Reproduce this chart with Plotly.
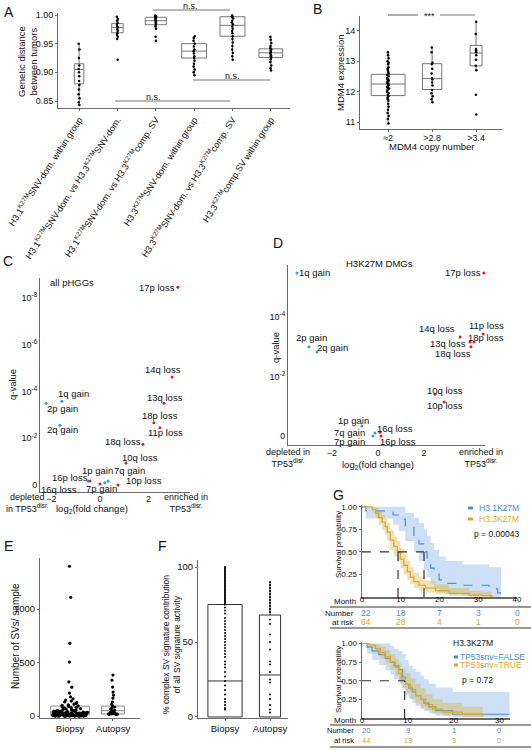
import math
import plotly.graph_objects as go

FONT = "Liberation Sans, Arial, Helvetica, sans-serif"
W, H = 531, 750

# ======================= DATA =======================
# ---- Panel A: genetic distance between tumours
A_labels = [
    "H3.1<sup>K27M</sup>SNV-dom. within group",
    "H3.1<sup>K27M</sup>SNV-dom. vs H3.3<sup>K27M</sup>SNV-dom.",
    "H3.1<sup>K27M</sup>SNV-dom. vs H3.3<sup>K27M</sup>comp. SV",
    "H3.3<sup>K27M</sup>SNV-dom. within group",
    "H3.3<sup>K27M</sup>SNV-dom. vs H3.3<sup>K27M</sup>comp. SV",
    "H3.3<sup>K27M</sup>comp.SV within group",
]
A_q1 = [0.880, 0.969, 0.983, 0.925, 0.963, 0.926]
A_med = [0.905, 0.978, 0.990, 0.937, 0.982, 0.934]
A_q3 = [0.915, 0.985, 0.996, 0.950, 0.997, 0.941]
A_lo = [0.843, 0.958, 0.975, 0.895, 0.922, 0.903]
A_hi = [0.950, 0.997, 0.998, 0.963, 0.999, 0.962]
A_pts = [
    [0.950, 0.940, 0.925, 0.912, 0.906, 0.900, 0.893, 0.885, 0.878, 0.870, 0.862, 0.855, 0.848, 0.843],
    [0.997, 0.993, 0.990, 0.986, 0.983, 0.980, 0.978, 0.975, 0.972, 0.968, 0.965, 0.962, 0.958, 0.922],
    [0.999, 0.998, 0.997, 0.996, 0.995, 0.993, 0.991, 0.989, 0.987, 0.985, 0.983, 0.980, 0.976, 0.962, 0.955],
    [0.963, 0.960, 0.955, 0.950, 0.945, 0.940, 0.937, 0.933, 0.928, 0.925, 0.920, 0.915, 0.910, 0.905, 0.900, 0.895],
    [0.999, 0.998, 0.996, 0.994, 0.990, 0.987, 0.984, 0.980, 0.976, 0.972, 0.968, 0.963, 0.958, 0.952, 0.946,
     0.940, 0.934, 0.928, 0.922],
    [0.962, 0.957, 0.951, 0.946, 0.942, 0.940, 0.938, 0.936, 0.934, 0.932, 0.930, 0.928, 0.926, 0.923, 0.918,
     0.912, 0.907, 0.903],
]

# ---- Panel B: MDM4 expression by copy number
B_labels = ["≈2", ">2.8", ">3.4"]
B_q1 = [11.87, 12.07, 12.85]
B_med = [12.25, 12.43, 13.27]
B_q3 = [12.57, 12.92, 13.52]
B_lo = [10.95, 11.65, 12.70]
B_hi = [13.30, 13.45, 14.30]
B_pts = [
    [13.3, 13.2, 13.1, 13.0, 12.95, 12.9, 12.8, 12.75, 12.7, 12.65, 12.6, 12.55, 12.5, 12.45, 12.42, 12.4,
     12.37, 12.35, 12.32, 12.3, 12.28, 12.25, 12.22, 12.2, 12.17, 12.15, 12.12, 12.1, 12.05, 12.0, 11.95,
     11.9, 11.85, 11.8, 11.75, 11.7, 11.6, 11.5, 11.4, 11.3, 11.2, 11.1, 10.95],
    [13.45, 13.3, 12.95, 12.9, 12.75, 12.6, 12.45, 12.4, 12.3, 12.2, 12.05, 11.95, 11.85, 11.75, 11.65],
    [14.3, 13.9, 13.4, 13.35, 13.3, 13.2, 13.05, 12.85, 12.7, 11.9, 11.25],
]

# ---- Panel C: all pHGGs volcano
C_names = ["17p loss", "14q loss", "13q loss", "18p loss", "11p loss", "18q loss", "10q loss",
           "1q gain", "2p gain", "2q gain", "1p gain", "7q gain", "16p loss", "10p loss", "16q loss", "7p gain"]
C_fc = [3.21, 2.97, 2.64, 2.22, 2.47, 1.77, 1.07, -1.57, -2.22, -1.65, -0.49, 0.33, -0.41, 0.74, 0.0, 0.2]
C_q = [3.5e-9, 2.4e-5, 3.2e-4, 2.2e-3, 3.6e-3, 1.8e-2, 0.115, 2.6e-4, 3.2e-4, 2.8e-3,
       0.68, 0.68, 0.68, 1.0, 0.91, 0.81]

# ---- Panel D: H3K27M DMGs volcano
D_names = ["1q gain", "17p loss", "2p gain", "2q gain", "14q loss", "11p loss", "18p loss", "13q loss",
           "18q loss", "10q loss", "10p loss", "1p gain", "7q gain", "7p gain", "16q loss", "16p loss"]
D_fc = [-3.52, 4.6, -3.0, -2.65, 3.57, 4.57, 4.17, 4.0, 4.04, 2.48, 2.87, -0.7, -0.13, -0.22, 0.09, 0.13]
D_q = [3.3e-6, 3.3e-6, 1.0e-3, 1.5e-3, 4.7e-4, 3.7e-4, 6.9e-4, 6.9e-4, 1.0e-3, 0.039, 0.072,
       0.46, 0.79, 1.0, 0.74, 1.0]

# ---- Panel E: number of SVs per sample
E_labels = ["Biopsy", "Autopsy"]
E_q1 = [10, 20]
E_med = [37, 50]
E_q3 = [93, 93]
E_biopsy = [1400, 1110, 680, 505, 320, 270, 215, 180, 160, 150, 140, 132, 125, 118, 112, 106, 100, 95, 90,
            86, 82, 78, 74, 70, 66, 63, 60, 57, 54, 51, 48, 46, 44, 42, 40, 38, 36, 34, 32, 30, 29, 28, 26,
            25, 24, 22, 21, 20, 19, 18, 17, 16, 15, 14, 13, 12, 12, 11, 10, 10, 9, 9, 8, 8, 7, 7, 6, 6, 6,
            5, 5, 5, 4, 4, 4, 3, 3, 3, 2, 2, 2, 1, 1, 1, 0, 0, 0, 45, 41, 35, 31, 27, 23, 19, 16, 14, 11,
            9, 7, 6, 5, 4, 3, 2, 1, 0, 0, 52, 47, 39, 33, 28, 22, 18, 13, 8, 4]
E_autopsy = [383, 336, 271, 224, 196, 168, 131, 110, 95, 85, 75, 65, 55, 48, 40, 34, 30, 27, 25, 23, 21, 20,
             18, 16, 14]

# ---- Panel F: % complex SV signature contribution
F_labels = ["Biopsy", "Autopsy"]
F_q1 = [0, 0]
F_med = [24, 28]
F_q3 = [75, 68]
F_hi = [100, 90]
F_biopsy = [100, 99, 98, 97, 96, 95, 94, 93, 92, 91, 90, 89, 88, 87, 86, 85, 84, 83, 82, 81, 80, 79, 78,
            77, 76, 75, 73, 71, 69, 66, 64, 62, 60, 58, 56, 54, 52, 50, 48, 46, 44, 42, 40, 37, 35, 33,
            30, 27, 24, 21, 18, 15, 12, 10, 8, 6, 5]
F_autopsy = [90, 88, 86, 84, 82, 80, 78, 76, 74, 72, 70, 65, 62, 55, 50, 45, 37, 35, 30, 25, 23, 15, 12, 8, 5, 3]

# ---- Panel G (top): H3.1K27M vs H3.3K27M survival
G1_blue_t = [0, 1, 8, 9.5, 11.2, 13.4, 14.7, 16, 16.8, 17.7, 18.6, 19.9, 21.6, 25.9, 32.8, 35, 35.9]
G1_blue_s = [1.0, 0.955, 0.909, 0.864, 0.773, 0.682, 0.59, 0.5, 0.41, 0.32, 0.25, 0.19, 0.15, 0.13, 0.09, 0.045, 0.0]
G1_blue_hi = [1.0, 1.0, 1.0, 1.0, 0.93, 0.88, 0.82, 0.75, 0.68, 0.6, 0.52, 0.45, 0.4, 0.36, 0.33, 0.33, 0.33]
G1_blue_lo = [1.0, 0.87, 0.8, 0.73, 0.62, 0.5, 0.4, 0.3, 0.22, 0.15, 0.09, 0.05, 0.03, 0.02, 0.0, 0.0, 0.0]
G1_yel_t = [0, 2.6, 3.5, 4.3, 5.2, 6.0, 6.5, 7.3, 8.2, 9.1, 9.9, 10.8, 11.7, 12.5, 13.4, 14.7, 16.4, 19, 22.5,
            27.6, 31, 33.5]
G1_yel_s = [1.0, 0.97, 0.93, 0.88, 0.83, 0.78, 0.72, 0.63, 0.56, 0.5, 0.42, 0.35, 0.28, 0.22, 0.17, 0.13, 0.1,
            0.07, 0.04, 0.02, 0.015, 0.0]
G1_yel_hi = [1.0, 1.0, 0.99, 0.95, 0.91, 0.87, 0.82, 0.74, 0.67, 0.62, 0.54, 0.47, 0.4, 0.33, 0.27, 0.22, 0.18,
             0.14, 0.1, 0.07, 0.06, 0.06]
G1_yel_lo = [1.0, 0.93, 0.87, 0.8, 0.74, 0.69, 0.62, 0.52, 0.45, 0.39, 0.32, 0.25, 0.19, 0.14, 0.1, 0.07, 0.05,
             0.03, 0.01, 0.0, 0.0, 0.0]
G1_medians = [16, 9.3]
G1_risk_t = [0, 10, 20, 30, 40]
G1_risk_blue = [22, 18, 7, 3, 0]
G1_risk_yel = [64, 28, 4, 1, 0]

# ---- Panel G (bottom): H3.3K27M, TP53 snv FALSE vs TRUE
G2_blue_t = [0, 1.1, 2.2, 3.7, 5.1, 6.2, 7.0, 8.0, 8.8, 9.5, 10.2, 11.0, 11.7, 12.8, 13.5, 14.6, 16.1, 19.8, 32.2]
G2_blue_s = [1.0, 0.95, 0.9, 0.85, 0.8, 0.75, 0.7, 0.65, 0.55, 0.45, 0.4, 0.35, 0.3, 0.25, 0.2, 0.15, 0.1, 0.05, 0.05]
G2_blue_hi = [1.0, 1.0, 1.0, 1.0, 1.0, 0.97, 0.93, 0.9, 0.86, 0.78, 0.7, 0.66, 0.62, 0.57, 0.52, 0.46, 0.41,
              0.35, 0.35]
G2_blue_lo = [1.0, 0.86, 0.78, 0.71, 0.64, 0.58, 0.52, 0.46, 0.4, 0.3, 0.25, 0.2, 0.16, 0.12, 0.09, 0.06, 0.03,
              0.01, 0.01]
G2_yel_t = [0, 1.5, 2.9, 4.0, 5.1, 6.2, 7.3, 8.0, 8.6, 9.5, 10.6, 11.7, 12.8, 13.9, 15.4, 17.6, 21.9, 26.3]
G2_yel_s = [1.0, 0.98, 0.93, 0.88, 0.82, 0.75, 0.68, 0.6, 0.52, 0.45, 0.38, 0.3, 0.25, 0.18, 0.12, 0.08, 0.05, 0.03]
G2_yel_hi = [1.0, 1.0, 0.99, 0.96, 0.91, 0.86, 0.8, 0.74, 0.67, 0.6, 0.53, 0.46, 0.4, 0.32, 0.25, 0.2, 0.15, 0.12]
G2_yel_lo = [1.0, 0.94, 0.86, 0.8, 0.73, 0.65, 0.57, 0.49, 0.4, 0.33, 0.26, 0.19, 0.14, 0.1, 0.06, 0.03, 0.01, 0.0]
G2_median = 9.3
G2_risk_t = [0, 10, 20, 30]
G2_risk_blue = [20, 9, 1, 0]
G2_risk_yel = [44, 19, 3, 0]

# ======================= STYLE / LAYOUT =======================
BLUE = "#4a8fd0"
BLUE_FILL = "rgba(120,170,225,0.38)"
YEL = "#d9a72c"
YEL_FILL = "rgba(210,180,70,0.40)"
GAIN = "#2e9fd8"
LOSS = "#d8202a"
AXC = "#6a6a6a"
GFS = 8

fig = go.Figure()


def dom_x(a, b):
    return [a / W, b / W]


def dom_y(top, bottom):
    return [1 - bottom / H, 1 - top / H]


def axis(dom, rng, **kw):
    d = dict(domain=dom, range=rng, showline=True, linecolor=AXC, linewidth=1, ticks="outside", ticklen=2,
             tickcolor=AXC, showgrid=False, zeroline=False, automargin=False, fixedrange=True,
             tickfont=dict(family=FONT, size=9, color="#111"))
    d.update(kw)
    return d


def txt(x, y, s, size=9, color="#111", xanchor="center", yanchor="middle", angle=0):
    fig.add_annotation(x=x / W, y=1 - y / H, xref="paper", yref="paper", text=s, showarrow=False,
                       font=dict(family=FONT, size=size, color=color), xanchor=xanchor, yanchor=yanchor,
                       textangle=angle)


def hline_px(x0, x1, y, color=AXC, width=1, dash=None):
    fig.add_shape(type="line", xref="paper", yref="paper", x0=x0 / W, x1=x1 / W, y0=1 - y / H, y1=1 - y / H,
                  line=dict(color=color, width=width, dash=dash))


def add_boxes(xa, ya, q1, med, q3, lo, hi, widths, color, lw=1):
    for i in range(len(q1)):
        fig.add_trace(go.Box(x=[i], q1=[q1[i]], median=[med[i]], q3=[q3[i]], lowerfence=[lo[i]],
                             upperfence=[hi[i]], width=widths[i], whiskerwidth=0, boxpoints=False,
                             fillcolor="white", line=dict(color=color, width=lw), xaxis=xa, yaxis=ya,
                             showlegend=False, hoverinfo="skip"))


def add_points(xa, ya, groups, widths, jitter, size=2.5, color="black"):
    for i, vals in enumerate(groups):
        fig.add_trace(go.Box(y=vals, x0=i, width=widths[i], boxpoints="all", jitter=jitter[i], pointpos=0,
                             fillcolor="rgba(0,0,0,0)", line=dict(color="rgba(0,0,0,0)", width=0),
                             marker=dict(color=color, size=size), xaxis=xa, yaxis=ya,
                             showlegend=False, hoverinfo="skip"))


# ---------------- Panel A ----------------
A_w = [0.25, 0.3, 0.55, 0.65, 0.65, 0.62]
add_boxes("x", "y", A_q1, A_med, A_q3, A_lo, A_hi, A_w, "#777")
add_points("x", "y", A_pts, A_w, [0.12, 0.12, 0.06, 0.06, 0.06, 0.06], size=2.5)

# ---------------- Panel B ----------------
B_w = [0.77, 0.44, 0.27]
add_boxes("x2", "y2", B_q1, B_med, B_q3, B_lo, B_hi, B_w, "#777")
add_points("x2", "y2", B_pts, B_w, [0.08, 0.08, 0.08], size=2.5)

# ---------------- Panel C ----------------
fig.add_trace(go.Scatter(x=C_fc, y=C_q, mode="markers", xaxis="x3", yaxis="y3", showlegend=False,
                         marker=dict(size=3, color=[GAIN if "gain" in n else LOSS for n in C_names]),
                         hoverinfo="skip"))
# label placement (pixel offset of label centre from its point, right/down positive; leader line flag)
C_off = [(-21, 0, 0), (-9, -7, 0), (1, -6, 0), (6, -7, 0), (6, 5, 0), (-20, -3, 0), (14, -6, 0),
         (12, -8, 0), (16, 5, 0), (3, 4, 0), (9, -11, 1), (22, -11, 1), (-20, -4, 1), (26, -4, 1),
         (-41, 5, 1), (-3, 6, 1)]

# ---------------- Panel D ----------------
fig.add_trace(go.Scatter(x=D_fc, y=D_q, mode="markers", xaxis="x4", yaxis="y4", showlegend=False,
                         marker=dict(size=3, color=[GAIN if "gain" in n else LOSS for n in D_names]),
                         hoverinfo="skip"))
D_off = [(18, 0, 0), (-21, 0, 0), (3, -9, 0), (15, -5, 0), (-23, -9, 1), (3, -8, 0), (12, -5, 0),
         (-22, 1, 1), (-18, 7, 1), (10, -4, 0), (1, 3, 0), (-8, -6, 1), (-25, -1, 1), (-23, 5, 1),
         (15, -4, 1), (17, 5, 1)]


def volcano_labels(names, fc, q, offs, xa, ya):
    for n, x, y, (dx, dy, lead) in zip(names, fc, q, offs):
        yl = math.log10(y)
        fig.add_annotation(x=x, y=yl, xref=xa, yref=ya, text=n, showarrow=False, xshift=dx, yshift=-dy,
                           xanchor="center", yanchor="middle",
                           font=dict(family=FONT, size=9.5, color="#111"))
        if lead:
            hw, hh = 2.6 * len(n), 5.0
            s = max(abs(dx) / hw, abs(dy) / hh)
            if s > 1:
                f = 1 - 1 / s
                fig.add_shape(type="line", xref=xa, yref=ya, xsizemode="pixel", ysizemode="pixel",
                              xanchor=x, yanchor=yl, x0=0, y0=0, x1=dx * f, y1=-dy * f,
                              line=dict(color="#444", width=0.7))


volcano_labels(C_names, C_fc, C_q, C_off, "x3", "y3")
volcano_labels(D_names, D_fc, D_q, D_off, "x4", "y4")

# ---------------- Panel E ----------------
E_w = [0.9, 0.53]
add_boxes("x5", "y5", E_q1, E_med, E_q3, E_q1, E_q3, E_w, "#888")
add_points("x5", "y5", [E_biopsy, E_autopsy], E_w, [0.9, 0.5], size=3.2)

# ---------------- Panel F ----------------
F_w = [0.76, 0.47]
add_boxes("x6", "y6", F_q1, F_med, F_q3, F_q1, F_hi, F_w, "#333")
add_points("x6", "y6", [F_biopsy, F_autopsy], F_w, [0.0, 0.0], size=2)


# ---------------- Panel G ----------------
def km(t, s, lo, hi, color, fill, xa, ya, dash=None):
    fig.add_trace(go.Scatter(x=t, y=lo, mode="lines", line=dict(width=0, shape="hv", color=fill),
                             xaxis=xa, yaxis=ya, showlegend=False, hoverinfo="skip"))
    fig.add_trace(go.Scatter(x=t, y=hi, mode="lines", line=dict(width=0, shape="hv", color=fill),
                             fill="tonexty", fillcolor=fill, xaxis=xa, yaxis=ya, showlegend=False,
                             hoverinfo="skip"))
    fig.add_trace(go.Scatter(x=t, y=s, mode="lines", line=dict(width=1.2, shape="hv", color=color, dash=dash),
                             xaxis=xa, yaxis=ya, showlegend=False, hoverinfo="skip"))


km(G1_blue_t, G1_blue_s, G1_blue_lo, G1_blue_hi, BLUE, BLUE_FILL, "x7", "y7", dash="dash")
km(G1_yel_t, G1_yel_s, G1_yel_lo, G1_yel_hi, YEL, YEL_FILL, "x7", "y7")
km(G2_blue_t, G2_blue_s, G2_blue_lo, G2_blue_hi, BLUE, BLUE_FILL, "x8", "y8")
km(G2_yel_t, G2_yel_s, G2_yel_lo, G2_yel_hi, YEL, YEL_FILL, "x8", "y8")

med_line = dict(color="#333", width=1.2, dash="dash")
fig.add_shape(type="line", xref="x7", yref="y7", x0=0, x1=max(G1_medians), y0=0.5, y1=0.5, line=med_line)
for m in G1_medians:
    fig.add_shape(type="line", xref="x7", yref="y7", x0=m, x1=m, y0=0, y1=0.5, line=med_line)
fig.add_shape(type="line", xref="x8", yref="y8", x0=0, x1=G2_median, y0=0.5, y1=0.5, line=med_line)
fig.add_shape(type="line", xref="x8", yref="y8", x0=G2_median, x1=G2_median, y0=0, y1=0.5, line=med_line)


def risk_row(xa, ts, vals, ypx, color, size):
    for t, v in zip(ts, vals):
        fig.add_annotation(x=t, y=1 - ypx / H, xref=xa, yref="paper", text=str(v), showarrow=False,
                           xanchor="center", yanchor="middle", xshift=4 if t == 0 else 0,
                           font=dict(family=FONT, size=size, color=color))


risk_row("x7", G1_risk_t, G1_risk_blue, 613, BLUE, GFS + 0.5)
risk_row("x7", G1_risk_t, G1_risk_yel, 622, YEL, GFS + 0.5)
risk_row("x8", G2_risk_t, G2_risk_blue, 730.5, BLUE, 7.5)
risk_row("x8", G2_risk_t, G2_risk_yel, 740, YEL, 7.5)

# ======================= AXES =======================
GTF = dict(family=FONT, size=GFS, color="#111")
lay = dict(
    xaxis=axis(dom_x(58, 290), [-0.55, 5.5], tickvals=list(range(6)), ticktext=A_labels, tickangle=-57,
               tickfont=dict(family=FONT, size=9, color="#111"), anchor="y", type="linear"),
    yaxis=axis(dom_y(13, 108), [0.8378, 1.0035], tickvals=[0.85, 0.90, 0.95, 1.00],
               ticktext=["0.85", "0.90", "0.95", "1.00"], anchor="x"),
    xaxis2=axis(dom_x(360, 502), [-0.64, 2.59], tickvals=[0, 1, 2], ticktext=B_labels, anchor="y2",
                type="linear", ticklabelstandoff=-2),
    yaxis2=axis(dom_y(16, 129), [10.77, 14.49], tickvals=[11, 12, 13, 14], anchor="x2"),
    xaxis3=axis(dom_x(40, 190), [-2.47, 3.71], tickvals=[-2, 0, 2], ticks="", anchor="y3",
                ticklabelstandoff=-2),
    yaxis3=axis(dom_y(278, 492), [0.3, -8.85], type="log", tickvals=[1, 1e-2, 1e-4, 1e-6, 1e-8],
                ticktext=["0", "10<sup>-2</sup>", "10<sup>-4</sup>", "10<sup>-6</sup>", "10<sup>-8</sup>"],
                ticks="", anchor="x3"),
    xaxis4=axis(dom_x(288, 485), [-3.91, 4.65], tickvals=[-2, 0, 2], ticks="", anchor="y4",
                ticklabelstandoff=-1),
    yaxis4=axis(dom_y(265, 445), [0.3, -5.75], type="log", tickvals=[1, 1e-2, 1e-4],
                ticktext=["0", "10<sup>-2</sup>", "10<sup>-4</sup>"], ticks="", anchor="x4"),
    xaxis5=axis(dom_x(40, 140), [-0.7, 1.63], tickvals=[0, 1], ticktext=E_labels, anchor="y5", type="linear",
                tickfont=dict(family=FONT, size=9.5, color="#111")),
    yaxis5=axis(dom_y(558, 718), [-18, 1477], tickvals=[0, 500, 1000], anchor="x5",
                tickfont=dict(family=FONT, size=9.5, color="#111")),
    xaxis6=axis(dom_x(198, 288), [-0.6, 1.4], tickvals=[0, 1], ticktext=F_labels, anchor="y6", type="linear",
                tickfont=dict(family=FONT, size=9.5, color="#111")),
    yaxis6=axis(dom_y(560, 718), [-0.7, 104.7], tickvals=[0, 50, 100], anchor="x6",
                tickfont=dict(family=FONT, size=9.5, color="#111")),
    xaxis7=axis(dom_x(362, 517), [0, 40], tickvals=[0, 10, 20, 30, 40], anchor="y7", linewidth=1.5,
                ticks="", ticklabelstandoff=-6, tickfont=GTF),
    yaxis7=axis(dom_y(505, 597), [0, 1.02], tickvals=[0.25, 0.5, 0.75, 1.0],
                ticktext=["0.25", "0.50", "0.75", "1.00"], anchor="x7", linewidth=1.5, tickfont=GTF),
    xaxis8=axis(dom_x(362, 510), [0, 32.3], tickvals=[0, 10, 20, 30], anchor="y8", linewidth=1.5,
                ticks="", ticklabelstandoff=-6, tickfont=GTF),
    yaxis8=axis(dom_y(642, 718), [0, 1.02], tickvals=[0.25, 0.5, 0.75, 1.0],
                ticktext=["0.25", "0.50", "0.75", "1.00"], anchor="x8", linewidth=1.5, tickfont=GTF),
)
fig.update_layout(**lay)

# ======================= TEXT / DECORATIONS =======================
for s, x, y in [("A", 9, 12), ("B", 317, 9), ("C", 8, 261), ("D", 278, 243), ("E", 8, 546), ("F", 162, 546),
                ("G", 338, 495)]:
    txt(x, y, s, size=14)

# A
txt(27, 62, "Genetic distance<br>between tumors", size=9.5, angle=-90)
for x0, x1, yy, tx, ty in [(153, 230, 10, 190, 6), (193, 270, 80, 232, 76), (115, 230, 101, 153, 97)]:
    hline_px(x0, x1, yy, color="#777", width=1)
    txt(tx, ty, "n.s.", size=9)

# B
txt(341, 73, "MDM4 expression", size=9.5, angle=-90)
txt(432, 146, "MDM4 copy number", size=9.5)
hline_px(388, 418, 15, color="#777", width=1.2)
hline_px(440, 475, 15, color="#777", width=1.2)
txt(429, 16, "***", size=9)

# C
txt(12, 385, "q-value", size=9.5, angle=-90)
txt(48, 282, "all pHGGs", size=9.5, xanchor="left")
txt(92, 509, "log<sub>2</sub>(fold change)", size=9.5)
txt(27, 503, "depleted<br>in TP53<sup>disr.</sup>", size=9)
txt(186, 503, "enriched in<br>TP53<sup>disr.</sup>", size=9)

# D
txt(275, 348, "q-value", size=9.5, angle=-90)
txt(379, 263, "H3K27M DMGs", size=9.5)
txt(378, 465, "log<sub>2</sub>(fold change)", size=9.5)
txt(288, 458, "depleted in<br>TP53<sup>disr.</sup>", size=9)
txt(481, 458, "enriched in<br>TP53<sup>disr.</sup>", size=9)

# E / F
txt(15, 636, "Number of SVs/ sample", size=10, angle=-90)
txt(171, 645, "% complex SV signature contribution<br>of all SV signature activity", size=8.5, angle=-90)

# G top
txt(338, 545, "Survival probability", size=GFS, angle=-90)
txt(358, 601, "Month", size=GFS, xanchor="right")
hline_px(330, 531, 607, color="#999", width=2)
txt(356, 613, "Number", size=GFS, xanchor="right")
txt(356, 622, "at risk", size=GFS, xanchor="right")
hline_px(330, 531, 628, color="#999", width=2)
hline_px(468, 473, 508, color=BLUE, width=3)
txt(477, 508, "H3.1K27M", size=GFS + 0.5, color=BLUE, xanchor="left")
hline_px(468, 473, 519, color=YEL, width=3)
txt(477, 519, "H3.3K27M", size=GFS + 0.5, color=YEL, xanchor="left")
txt(472, 534, "p = 0.00043", size=GFS + 0.5, xanchor="left")

# G bottom
txt(338, 680, "Survival probability", size=GFS, angle=-90)
txt(358, 720, "Month", size=GFS, xanchor="right")
hline_px(330, 531, 725, color="#999", width=2)
txt(356, 730.5, "Number", size=7.5, xanchor="right")
txt(356, 740, "at risk", size=7.5, xanchor="right")
hline_px(330, 531, 747, color="#999", width=2)
txt(473, 643, "H3.3K27M", size=GFS + 0.5)
hline_px(454, 458, 657, color=BLUE, width=3)
txt(458, 657, "TP53snv=FALSE", size=GFS + 0.5, color=BLUE, xanchor="left")
hline_px(454, 458, 665, color=YEL, width=3)
txt(458, 665, "TP53snv=TRUE", size=GFS + 0.5, color=YEL, xanchor="left")
txt(460, 680, "p = 0.72", size=GFS + 0.5, xanchor="left")

fig.update_layout(width=W, height=H, margin=dict(l=0, r=0, t=0, b=0), template="none",
                  plot_bgcolor="white", paper_bgcolor="white", showlegend=False, boxmode="overlay",
                  font=dict(family=FONT, size=9, color="#111"))

fig.write_html("out.html", config={"displayModeBar": False, "staticPlot": True},
               post_script="document.body.style.margin='0';document.body.style.overflow='hidden';")
